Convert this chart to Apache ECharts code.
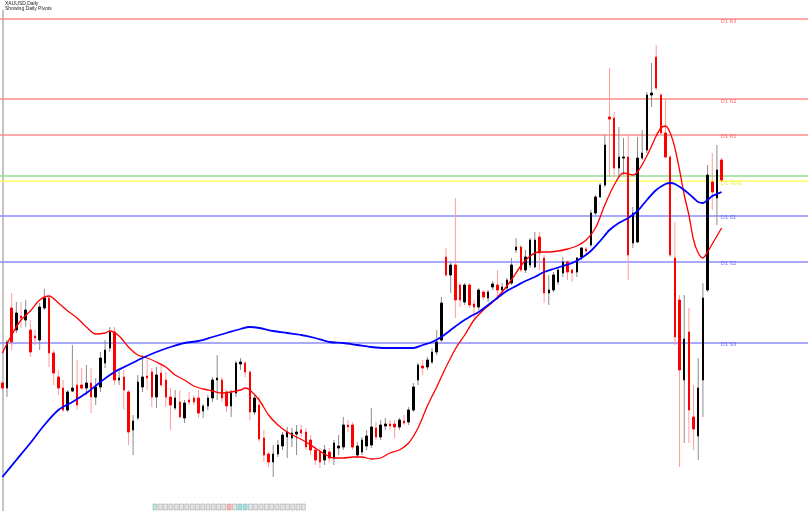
<!DOCTYPE html>
<html>
<head>
<meta charset="utf-8">
<title>XAUUSD,Daily</title>
<script src="https://cdn.jsdelivr.net/npm/echarts@6/dist/echarts.min.js"></script>
<style>
  html, body {margin: 0; padding: 0; background: #fff;}
  #main {width: 808px; height: 511px;}
</style>
</head>
<body>
<div id="main"></div>
<script>
// daily candles, oldest first
var opens = [
  4534,4524,4684,4640,4668,4660,4640,4628,4620,4684,
  4704,4594,4546,4524,4480,4518,4530,4530,4524,4534,
  4506,4526,4574,4604,4636,4540,4546,4516,4440,4464,
  4526,4548,4556,4506,4554,4540,4506,4484,4496,4464,
  4500,4504,4504,4478,4488,4504,4540,4540,4516,4488,
  4514,4572,4574,4556,4476,4490,4424,4392,4376,4392,
  4408,4426,4424,4432,4440,4436,4420,4400,4396,4380,
  4396,4384,4404,4406,4450,4450,4390,4396,4408,4410,
  4444,4426,4448,4452,4452,4446,4458,4456,4480,4540,
  4568,4566,4576,4596,4620,4786,4750,4770,4730,4696,
  4730,4692,4686,4716,4704,4726,4730,4720,4724,4734,
  4800,4806,4760,4770,4766,4826,4784,4714,4720,4736,
  4754,4776,4760,4756,4786,4802,4810,4874,4906,4930,
  5066,5064,4964,4984,4986,4814,4816,4984,5000,5110,
  5186,5110,5034,4986,4784,4700,4540,4636,4466,4428,
  4540,4720,4936,4904,4980
];
var closes = [
  4524,4616,4616,4674,4664,4680,4596,4624,4686,4704,
  4594,4554,4524,4480,4516,4524,4490,4524,4534,4506,
  4526,4584,4600,4636,4540,4544,4520,4436,4458,4536,
  4546,4544,4506,4550,4530,4506,4490,4504,4466,4494,
  4496,4496,4474,4488,4504,4540,4544,4504,4488,4514,
  4574,4576,4556,4476,4504,4422,4390,4376,4392,4410,
  4430,4436,4434,4436,4434,4406,4400,4380,4376,4400,
  4384,4414,4408,4450,4446,4406,4408,4420,4428,4446,
  4426,4450,4452,4448,4446,4460,4454,4480,4526,4570,
  4564,4580,4596,4616,4694,4750,4770,4700,4700,4730,
  4690,4686,4720,4706,4716,4732,4720,4726,4740,4770,
  4806,4760,4786,4820,4820,4794,4714,4720,4750,4760,
  4776,4756,4754,4784,4804,4798,4874,4906,4930,5010,
  5062,4964,4986,4986,4790,4874,4984,4994,5110,5114,
  5124,5034,4986,4790,4626,4560,4622,4480,4442,4524,
  4704,4950,4916,4960,4940
];
var lows = [
  4518,4506,4600,4634,4644,4646,4586,4610,4600,4680,
  4566,4530,4510,4476,4476,4516,4480,4520,4510,4474,
  4490,4516,4564,4596,4530,4530,4480,4410,4390,4460,
  4516,4520,4486,4484,4526,4486,4440,4480,4464,4454,
  4490,4490,4464,4464,4480,4496,4500,4496,4476,4466,
  4506,4560,4546,4460,4470,4416,4376,4366,4346,4386,
  4400,4384,4406,4390,4426,4400,4390,4370,4364,4370,
  4376,4370,4390,4400,4436,4400,4384,4390,4400,4404,
  4420,4420,4440,4440,4424,4440,4450,4450,4476,4530,
  4550,4560,4572,4590,4616,4746,4714,4664,4686,4690,
  4684,4664,4680,4700,4696,4720,4700,4716,4720,4730,
  4794,4756,4754,4764,4764,4760,4694,4690,4716,4730,
  4746,4740,4736,4746,4780,4792,4806,4870,4904,4926,
  4946,4946,4946,4950,4740,4804,4814,4980,4994,5086,
  5120,5030,4984,4786,4610,4366,4414,4414,4400,4380,
  4466,4716,4880,4850,4936
];
var highs = [
  4540,4620,4714,4696,4696,4700,4660,4640,4694,4722,
  4708,4600,4560,4540,4520,4610,4580,4564,4570,4564,
  4544,4596,4620,4646,4646,4560,4560,4520,4470,4550,
  4590,4580,4564,4566,4574,4556,4524,4520,4520,4500,
  4516,4510,4520,4492,4510,4546,4590,4546,4520,4520,
  4578,4584,4578,4560,4510,4506,4440,4396,4410,4420,
  4436,4446,4444,4450,4450,4444,4430,4406,4404,4410,
  4404,4420,4430,4466,4460,4456,4416,4426,4440,4484,
  4456,4460,4464,4460,4460,4464,4470,4486,4534,4574,
  4580,4586,4604,4640,4706,4804,4776,4904,4734,4734,
  4734,4700,4724,4720,4720,4738,4760,4734,4744,4784,
  4824,4810,4800,4824,4836,4836,4790,4750,4756,4766,
  4786,4780,4764,4786,4806,4806,4880,4910,4934,5030,
  5164,5076,5046,5024,5030,4886,5026,5040,5116,5174,
  5210,5114,5104,4990,4856,4710,4710,4684,4530,4584,
  4734,4970,4994,5010,4984
];

// moving averages: [bar index, value]
var maFast = [
  [0,4594],[2,4630],[4,4660],[6,4678],[8,4700],[10,4708],[12,4694],[14,4678],
  [16,4664],[18,4646],[20,4632],[22,4634],[23,4638],[25,4628],[27,4606],[29,4590],
  [31,4584],[33,4576],[35,4566],[37,4550],[39,4540],[41,4528],[43,4522],[45,4518],
  [47,4514],[49,4516],[51,4520],[52,4524],[53,4520],[55,4500],[57,4470],[59,4450],
  [61,4436],[63,4426],[65,4416],[67,4404],[69,4392],[71,4384],[73,4384],[75,4386],
  [77,4386],[79,4382],[81,4384],[83,4394],[85,4400],[87,4414],[89,4444],[91,4488],
  [93,4526],[95,4566],[97,4602],[99,4630],[101,4660],[103,4680],[105,4696],[107,4716],
  [109,4740],[111,4768],[113,4788],[115,4796],[117,4796],[119,4798],[121,4802],[123,4808],
  [125,4820],[127,4844],[129,4890],[131,4930],[133,4954],[135,4950],[136,4956],[138,4988],
  [140,5028],[141,5044],[142,5048],[143,5034],[144,5004],[145,4960],[146,4910],[147,4870],
  [148,4820],[149,4794],[150,4784],[151,4796],[152,4812],[153,4828],[154,4844]
];
var maSlow = [
  [0,4346],[3,4380],[6,4414],[9,4450],[12,4480],[15,4496],[18,4514],[21,4536],
  [24,4556],[27,4570],[30,4584],[33,4596],[36,4606],[39,4614],[42,4618],[45,4626],
  [48,4634],[51,4642],[53,4646],[55,4644],[58,4638],[61,4634],[64,4630],[67,4624],
  [70,4616],[73,4614],[76,4610],[79,4606],[82,4604],[85,4604],[88,4604],[90,4610],
  [92,4616],[94,4626],[96,4640],[98,4654],[100,4666],[102,4676],[104,4690],[106,4704],
  [108,4718],[110,4728],[112,4738],[114,4746],[116,4756],[118,4762],[120,4768],[122,4774],
  [124,4784],[126,4798],[128,4818],[130,4840],[132,4854],[134,4864],[136,4878],[138,4900],
  [140,4920],[142,4932],[143,4934],[144,4932],[146,4920],[148,4904],[149,4896],[150,4894],
  [151,4900],[152,4908],[153,4912],[154,4916]
];

// daily pivot levels
var pivotNames  = ['D1 R3', 'D1 R2', 'D1 R1', 'D1 Pivot', 'D1 S1', 'D1 S2', 'D1 S3'];
var pivotValues = [5262, 5102, 5031, 4938, 4869, 4777, 4615];
var pivotColors = ['#ff8c8c', '#ff8c8c', '#ff8c8c', '#ffff66', '#8c8cff', '#8c8cff', '#8c8cff'];
var labelColors = ['#ff3c3c', '#ff3c3c', '#ff3c3c', '#e6e600', '#3c3cff', '#3c3cff', '#3c3cff'];
var dayOpen = 4948;

var barCount = opens.length;
var slotCount = 173; // chart shift leaves empty room on the right
var categories = [];
for (var k = 0; k < slotCount; k++) categories.push(String(k + 1));

var wickData = [], bodyData = [];
for (var i = 0; i < barCount; i++) {
  wickData.push([i, opens[i], closes[i], lows[i], highs[i]]);
  bodyData.push([opens[i], closes[i], Math.min(opens[i], closes[i]), Math.max(opens[i], closes[i])]);
}

var markLines = pivotValues.map(function (v, n) {
  return {yAxis: v, lineStyle: {color: pivotColors[n]}};
});
markLines.push({yAxis: dayOpen, lineStyle: {color: '#90e090'}});

var labelData = pivotValues.map(function (v, n) {
  return {value: [barCount - 1, v], name: pivotNames[n], label: {color: labelColors[n]}};
});

// small glyph strip at the bottom
var strip = [];
for (var b = 0; b < 29; b++) {
  var fill = '#e4e4e4', stroke = '#9a9a9a';
  if (b === 0) { fill = '#bfe6e6'; }
  if (b === 14) { fill = '#f3b6b6'; stroke = '#d08080'; }
  if (b === 16 || b === 17) { fill = '#a8dede'; stroke = '#70b0b0'; }
  strip.push({type: 'rect', shape: {x: 153 + b * 5.3, y: 504, width: 4, height: 6},
    style: {fill: fill, stroke: stroke, lineWidth: 0.5}});
}

var chart = echarts.init(document.getElementById('main'));
chart.setOption({
  animation: false,
  backgroundColor: '#fff',
  grid: {left: 0, top: 0, width: 810, height: 511, containLabel: false},
  xAxis: {type: 'category', data: categories, show: false, boundaryGap: true},
  yAxis: {type: 'value', min: 4278, max: 5300, show: false},
  graphic: [
    {type: 'line', shape: {x1: 3, y1: 10, x2: 3, y2: 511}, style: {stroke: '#8a8a8a', lineWidth: 1}},
    {type: 'text', left: 5, top: 1, style: {text: 'XAUUSD,Daily', fontSize: 5, fontFamily: 'Liberation Sans', fill: '#222'}},
    {type: 'text', left: 5, top: 6, style: {text: 'Showing Daily Pivots', fontSize: 5, fontFamily: 'Liberation Sans', fill: '#222'}},
    {type: 'group', children: strip}
  ],
  series: [
    {
      name: 'wick', type: 'custom', data: wickData, z: 2,
      encode: {x: 0, y: [3, 4]},
      renderItem: function (params, api) {
        var x = api.value(0);
        var top = api.coord([x, api.value(4)]);
        var bot = api.coord([x, api.value(3)]);
        var up = api.value(2) >= api.value(1);
        return {
          type: 'line',
          shape: {x1: top[0], y1: top[1], x2: bot[0], y2: bot[1]},
          style: {stroke: up ? '#8c8c8c' : '#ff9c9c', lineWidth: 1}
        };
      }
    },
    {
      name: 'XAUUSD', type: 'candlestick', data: bodyData, z: 3,
      barWidth: 2,
      itemStyle: {color: '#000', color0: '#ff0000', borderColor: '#000', borderColor0: '#ff0000', borderWidth: 1},
      markLine: {
        silent: true, symbol: 'none', label: {show: false},
        lineStyle: {type: 'solid', width: 1.5, opacity: 1},
        data: markLines, z: 1
      }
    },
    {
      name: 'MA fast', type: 'line', data: maFast, z: 4,
      smooth: 0.3, showSymbol: false,
      lineStyle: {color: '#ff0000', width: 1.3}
    },
    {
      name: 'MA slow', type: 'line', data: maSlow, z: 4,
      smooth: 0.3, showSymbol: false,
      lineStyle: {color: '#0000ff', width: 1.8}
    },
    {
      name: 'pivot labels', type: 'scatter', data: labelData, z: 5,
      symbolSize: 1, itemStyle: {color: 'transparent'},
      label: {show: true, position: [0, 0.5], formatter: '{b}', fontSize: 5, fontFamily: 'DejaVu Sans'}
    }
  ]
});
window.onresize = chart.resize;
</script>
</body>
</html>
